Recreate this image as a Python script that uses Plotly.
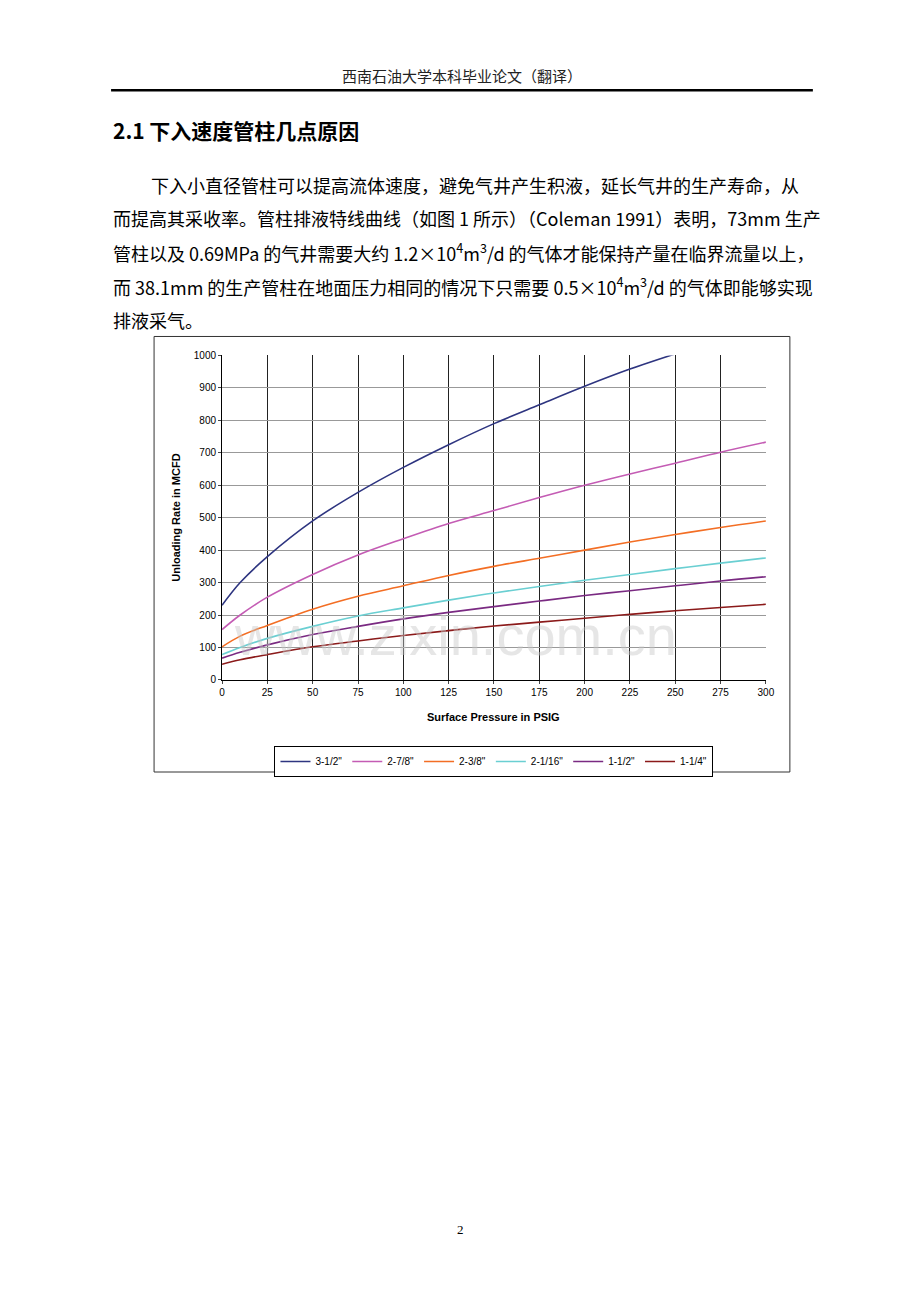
import plotly.graph_objects as go

x_full = [0, 10, 25, 50, 75, 100, 125, 150, 175, 200, 225, 250, 275, 300]
x_35 = [0, 10, 25, 50, 75, 100, 125, 150, 175, 200, 225, 250]
names = ['3-1/2"', '2-7/8"', '2-3/8"', '2-1/16"', '1-1/2"', '1-1/4"']
colors = ['#2e3580', '#c45cb4', '#f36e24', '#6acfd2', '#7a2a82', '#8b1a1a']
y_35 = [230, 300, 380, 490, 578, 655, 725, 790, 848, 905, 958, 1005]
y_278 = [155, 200, 255, 325, 385, 435, 482, 522, 562, 600, 635, 668, 702, 733]
y_238 = [102, 135, 168, 218, 258, 290, 322, 350, 375, 400, 425, 448, 470, 490]
y_2116 = [78, 100, 128, 165, 197, 222, 246, 268, 288, 307, 325, 343, 360, 376]
y_112 = [67, 85, 108, 140, 165, 188, 208, 226, 243, 260, 275, 290, 305, 318]
y_114 = [48, 62, 78, 102, 120, 137, 152, 166, 178, 190, 202, 213, 223, 233]
series = [(x_35, y_35), (x_full, y_278), (x_full, y_238), (x_full, y_2116), (x_full, y_112), (x_full, y_114)]

OFF = 8
W, H = 904, 1286
def px(x):
    x = (x - 2) / 0.987
    return (x - OFF) / W
def py(y):
    y = (y - 5) / 0.991
    return 1 - (y - OFF) / H

fig = go.Figure()
for (xs, ys), n, c in zip(series, names, colors):
    fig.add_trace(go.Scatter(x=xs, y=ys, name=n, mode='lines', line=dict(color=c, width=1.6, shape='spline')))

cjk = "Noto Sans CJK SC"
ann = []
ann.append(dict(x=px(461), y=py(75), text="西南石油大学本科毕业论文（翻译）", font=dict(family=cjk, size=15, color="#222")))
ann.append(dict(x=px(110), y=py(130), xanchor='left', text="<b>2.1 下入速度管柱几点原因</b>", font=dict(family=cjk, size=21, color="#000")))
lines = [
    (148, 185, "下入小直径管柱可以提高流体速度，避免气井产生积液，延长气井的生产寿命，从"),
    (110, 218, "而提高其采收率。管柱排液特线曲线（如图 1 所示）（Coleman 1991）表明，73mm 生产"),
    (110, 252, "管柱以及 0.69MPa 的气井需要大约 1.2×10<sup>4</sup>m<sup>3</sup>/d 的气体才能保持产量在临界流量以上，"),
    (110, 286, "而 38.1mm 的生产管柱在地面压力相同的情况下只需要 0.5×10<sup>4</sup>m<sup>3</sup>/d 的气体即能够实现"),
    (110, 320, "排液采气。"),
]
for x0, y0, t in lines:
    ann.append(dict(x=px(x0), y=py(y0), xanchor='left', text=t, font=dict(family=cjk, size=18, color="#000")))
ann.append(dict(x=px(460), y=py(1228), text="2", font=dict(family="Liberation Serif", size=13, color="#000")))
ann.append(dict(x=px(455), y=py(635), text="www.zixin.com.cn", font=dict(family="Liberation Sans", size=56, color="rgba(200,200,200,0.45)")))
ann.append(dict(x=px(493), y=py(716), text="<b>Surface Pressure in PSIG</b>", font=dict(family="Liberation Sans", size=11, color="#000")))
ann.append(dict(x=px(175), y=py(517), text="<b>Unloading Rate in MCFD</b>", textangle=-90, font=dict(family="Liberation Sans", size=11, color="#000")))
for a in ann:
    a.update(xref='paper', yref='paper', showarrow=False)
    a.setdefault('xanchor', 'center')
    a.setdefault('yanchor', 'middle')

shapes = [
    dict(type='line', xref='paper', yref='paper', x0=px(110), x1=px(812), y0=py(90), y1=py(90), line=dict(color='#000', width=2.5)),
    dict(type='rect', xref='paper', yref='paper', x0=px(153), x1=px(789), y0=py(336), y1=py(771), line=dict(color='#333', width=1)),
]

fig.update_layout(
    width=W, height=H, margin=dict(l=0, r=0, t=0, b=0),
    paper_bgcolor='white', plot_bgcolor='white',
    annotations=ann, shapes=shapes,
    xaxis=dict(domain=[px(221), px(765)], range=[0, 300], tickvals=list(range(0, 301, 25)),
               showgrid=True, gridcolor='#222', gridwidth=1, zeroline=False, showline=True, linecolor='#000',
               ticks='outside', ticklen=3, tickfont=dict(family='Liberation Sans', size=10, color='#000')),
    yaxis=dict(domain=[py(679), py(355)], range=[0, 1000], tickvals=list(range(0, 1001, 100)),
               showgrid=True, gridcolor='#999', gridwidth=1, zeroline=False, showline=True, linecolor='#000',
               ticks='outside', ticklen=3, tickfont=dict(family='Liberation Sans', size=10, color='#000')),
    legend=dict(orientation='h', x=px(493), xanchor='center', y=py(745), yanchor='top',
                bordercolor='#000', borderwidth=1, font=dict(family='Liberation Sans', size=10, color='#000'),
                tracegroupgap=0),
)
fig.write_html("out.html")
